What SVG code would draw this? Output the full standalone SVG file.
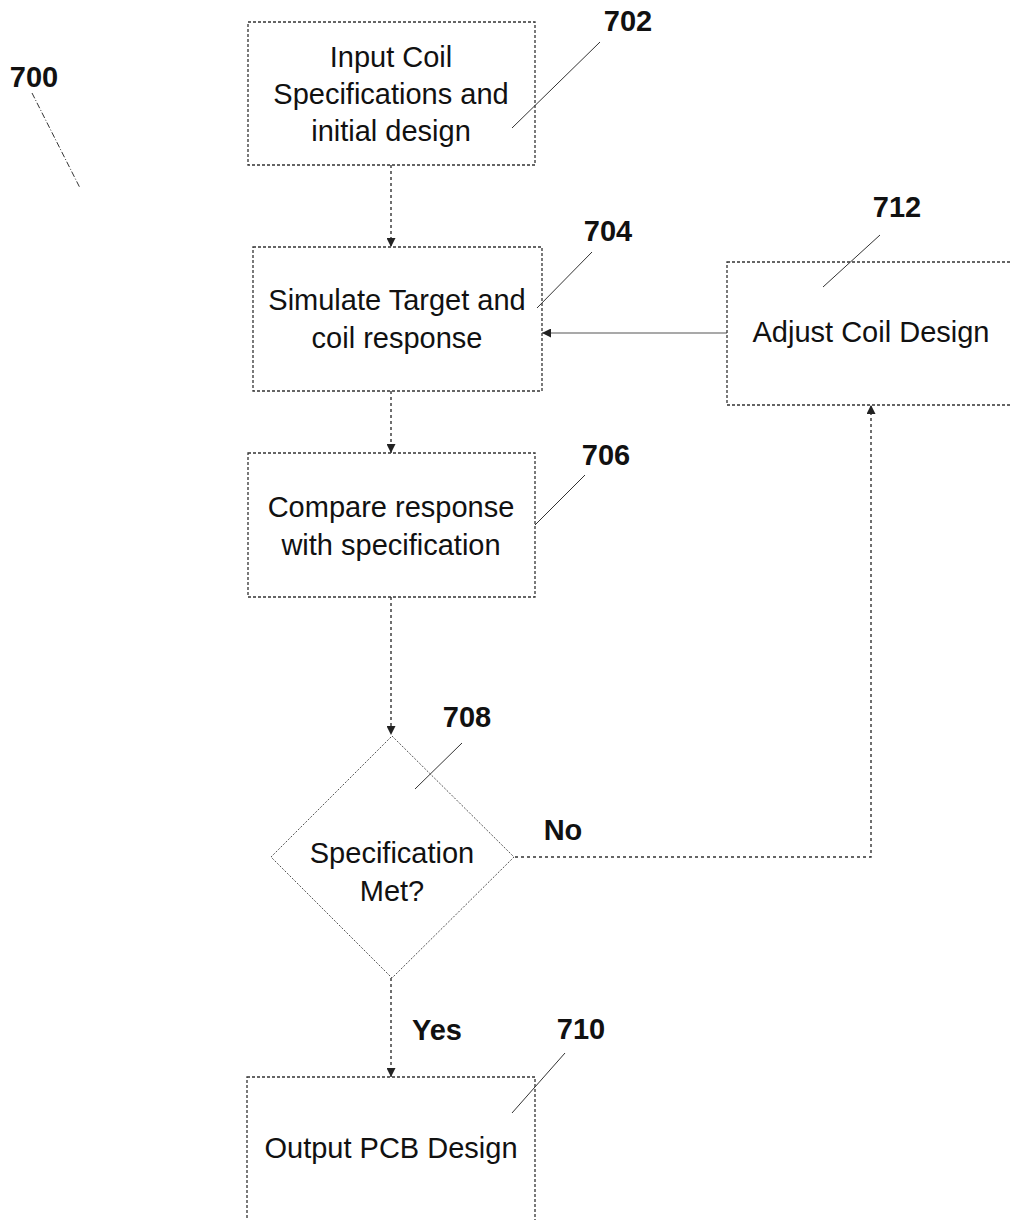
<svg xmlns="http://www.w3.org/2000/svg" width="1010" height="1220" viewBox="0 0 1010 1220">
<style>
.box{fill:#fff;stroke:#333;stroke-width:1.3;stroke-dasharray:3 2}
.dia{fill:#fff;stroke:#555;stroke-width:1;stroke-dasharray:2 1.5}
.t{font-family:"Liberation Sans",Arial,sans-serif;font-size:29px;fill:#111;text-anchor:middle}
.n{font-family:"Liberation Sans",Arial,sans-serif;font-size:29px;font-weight:bold;fill:#111;text-anchor:middle}
.lead{stroke:#333;stroke-width:1;fill:none}
.conn{stroke:#333;stroke-width:1.4;fill:none;stroke-dasharray:3 3}
.solid{stroke:#555;stroke-width:1.2;fill:none}
</style>
<defs>
<marker id="ah" viewBox="0 0 10 10" refX="10" refY="5" markerWidth="9" markerHeight="9" markerUnits="userSpaceOnUse" orient="auto">
<path d="M0,0 L10,5 L0,10 Z" fill="#222"/>
</marker>
</defs>

<g id="label-700">
<text class="n" x="34" y="87">700</text>
<line class="lead" x1="32" y1="93" x2="80" y2="188" stroke-dasharray="6 2 1 2"/>
</g>

<g id="connectors">
<line class="conn" x1="391" y1="165" x2="391" y2="247" marker-end="url(#ah)"/>
<line class="conn" x1="391" y1="391" x2="391" y2="453" marker-end="url(#ah)"/>
<line class="conn" x1="391" y1="597" x2="391" y2="735" marker-end="url(#ah)"/>
<line class="conn" x1="391" y1="978" x2="391" y2="1077" marker-end="url(#ah)"/>
<polyline class="conn" points="515,857 871,857 871,405" marker-end="url(#ah)"/>
<line class="solid" x1="727" y1="333" x2="542" y2="333" marker-end="url(#ah)"/>
<text class="n" x="563" y="840">No</text>
<text class="n" x="437" y="1040">Yes</text>
</g>

<g id="node-702">
<rect class="box" x="248" y="22" width="287" height="143"/>
<text class="t" x="391" y="67">Input Coil</text>
<text class="t" x="391" y="104">Specifications and</text>
<text class="t" x="391" y="141">initial design</text>
<line class="lead" x1="600" y1="42" x2="512" y2="128"/>
<text class="n" x="628" y="31">702</text>
</g>

<g id="node-704">
<rect class="box" x="253" y="247" width="289" height="144"/>
<text class="t" x="397" y="310">Simulate Target and</text>
<text class="t" x="397" y="348">coil response</text>
<line class="lead" x1="592" y1="252" x2="537" y2="308"/>
<text class="n" x="608" y="241">704</text>
</g>

<g id="node-706">
<rect class="box" x="248" y="453" width="287" height="144"/>
<text class="t" x="391" y="517">Compare response</text>
<text class="t" x="391" y="555">with specification</text>
<line class="lead" x1="585" y1="475" x2="535" y2="525"/>
<text class="n" x="606" y="465">706</text>
</g>

<g id="node-708">
<polygon class="dia" points="392,736 514,857 392,978 271,857"/>
<text class="t" x="392" y="863">Specification</text>
<text class="t" x="392" y="901">Met?</text>
<line class="lead" x1="462" y1="743" x2="415" y2="789"/>
<text class="n" x="467" y="727">708</text>
</g>

<g id="node-710">
<rect class="box" x="247" y="1077" width="288" height="160"/>
<text class="t" x="391" y="1158">Output PCB Design</text>
<line class="lead" x1="565" y1="1053" x2="512" y2="1113"/>
<text class="n" x="581" y="1039">710</text>
</g>

<g id="node-712">
<rect class="box" x="727" y="262" width="300" height="143"/>
<text class="t" x="871" y="342">Adjust Coil Design</text>
<line class="lead" x1="880" y1="235" x2="823" y2="287"/>
<text class="n" x="897" y="217">712</text>
</g>
</svg>
